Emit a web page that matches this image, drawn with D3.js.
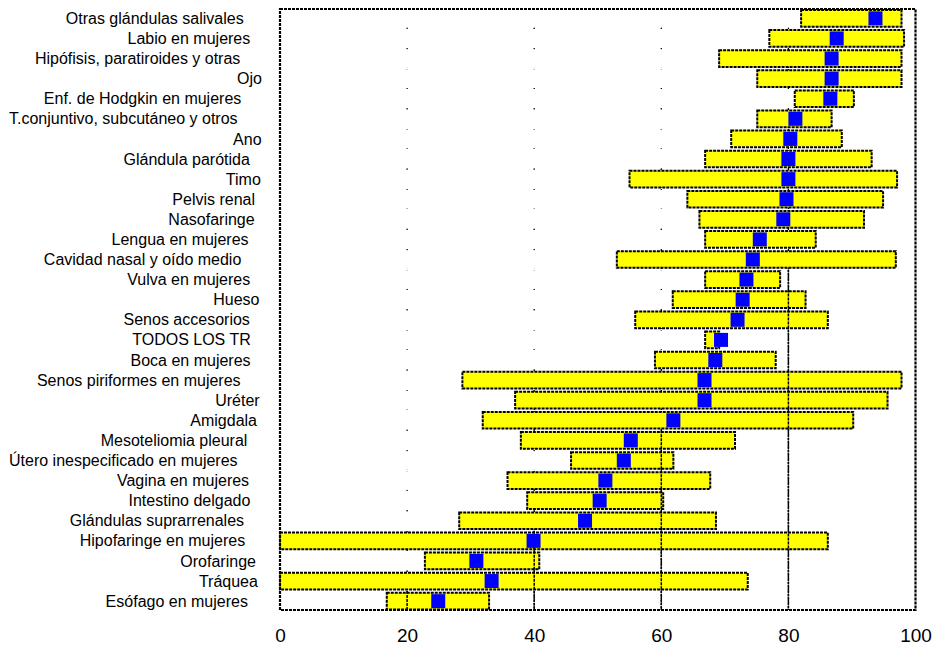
<!DOCTYPE html>
<html>
<head>
<meta charset="utf-8">
<script src="https://cdn.jsdelivr.net/npm/d3@7"></script>
<style>
  body { margin: 0; background: #fff; }
  text { font-family: "Liberation Sans", Arial, sans-serif; fill: #000; }
</style>
</head>
<body>
<svg id="chart" width="939" height="648"></svg>
<script>
// Sites, top to bottom
const categories = [
  "Otras glándulas salivales",
  "Labio en mujeres",
  "Hipófisis, paratiroides y otras",
  "Ojo",
  "Enf. de Hodgkin en mujeres",
  "T.conjuntivo, subcutáneo y otros",
  "Ano",
  "Glándula parótida",
  "Timo",
  "Pelvis renal",
  "Nasofaringe",
  "Lengua en mujeres",
  "Cavidad nasal y oído medio",
  "Vulva en mujeres",
  "Hueso",
  "Senos accesorios",
  "TODOS LOS TR",
  "Boca en mujeres",
  "Senos piriformes en mujeres",
  "Uréter",
  "Amigdala",
  "Mesoteliomia pleural",
  "Útero inespecificado en mujeres",
  "Vagina en mujeres",
  "Intestino delgado",
  "Glándulas suprarrenales",
  "Hipofaringe en mujeres",
  "Orofaringe",
  "Tráquea",
  "Esófago en mujeres"
];

// Lower limit of the interval
const lower = [
  82.0, 77.0, 69.1, 75.1, 81.0, 75.1, 71.0, 66.9, 55.0, 64.1,
  66.0, 66.9, 53.0, 66.9, 61.8, 55.9, 66.9, 59.0, 28.7, 37.0,
  31.9, 37.9, 45.8, 35.8, 38.9, 28.2, 0.0, 22.8, 0.0, 16.8
];

// Upper limit of the interval
const upper = [
  97.8, 98.2, 97.8, 97.8, 90.3, 86.8, 88.4, 93.1, 97.1, 94.9,
  91.9, 84.3, 96.9, 78.7, 82.7, 86.2, 69.1, 78.0, 97.8, 95.6,
  90.2, 71.6, 61.9, 67.7, 60.3, 68.6, 86.2, 40.8, 73.6, 32.9
];

// Point estimate
const estimate = [
  93.7, 87.6, 86.8, 86.8, 86.6, 81.1, 80.3, 80.0, 80.0, 79.7,
  79.2, 75.5, 74.4, 73.4, 72.8, 72.0, 69.4, 68.5, 66.8, 66.8,
  61.9, 55.2, 54.1, 51.2, 50.3, 48.0, 39.9, 30.9, 33.3, 24.9
];

const xTicks = [0, 20, 40, 60, 80, 100];
// Reference lines and the first row (from the top) each one runs down from
const gridValues = [20, 40, 60, 80];
const gridFromRow = [
  "Esófago en mujeres",
  "Hipofaringe en mujeres",
  "Mesoteliomia pleural",
  "Vulva en mujeres"
];

const svg = d3.select("#chart");
const plot = { left: 280, right: 915.5, top: 9, bottom: 610 };

const x = d3.scaleLinear().domain([0, 100]).range([plot.left, plot.right]);
const y = d3.scaleBand()
  .domain(categories)
  .range([plot.top, plot.bottom + 0.5])
  .paddingInner(0.17)
  .paddingOuter(0.05);

const rows = categories.map((c, i) => ({
  name: c, lo: lower[i], hi: upper[i], est: estimate[i]
}));

// Full-height grid lines, behind everything
svg.append("g").selectAll("line")
  .data(gridValues)
  .join("line")
  .attr("x1", d => x(d)).attr("x2", d => x(d))
  .attr("y1", plot.top).attr("y2", plot.bottom)
  .attr("stroke", "#000")
  .attr("stroke-width", 1.3)
  .attr("stroke-dasharray", "2,1");

// White base segment from 0 to the lower limit masks the grid
svg.append("g").selectAll("rect")
  .data(rows)
  .join("rect")
  .attr("x", x(0))
  .attr("y", d => y(d.name) - 1)
  .attr("width", d => x(d.lo) - x(0))
  .attr("height", y.bandwidth() + 2)
  .attr("fill", "#fff");

// Interval bars
svg.append("g").selectAll("rect")
  .data(rows)
  .join("rect")
  .attr("x", d => x(d.lo))
  .attr("y", d => y(d.name))
  .attr("width", d => x(d.hi) - x(d.lo))
  .attr("height", y.bandwidth())
  .attr("fill", "#ffff00")
  .attr("stroke", "#000")
  .attr("stroke-width", 2)
  .attr("stroke-dasharray", "3,1");

// Lower part of each reference line, drawn over the bars
svg.append("g").selectAll("line")
  .data(gridValues.map((v, i) => ({ v, from: gridFromRow[i] })))
  .join("line")
  .attr("x1", d => x(d.v)).attr("x2", d => x(d.v))
  .attr("y1", d => y(d.from) - (y.step() - y.bandwidth()) / 2)
  .attr("y2", plot.bottom)
  .attr("stroke", "#000")
  .attr("stroke-width", 1.5)
  .attr("stroke-dasharray", "3,1");

// Point estimate markers
const m = 14;
svg.append("g").selectAll("rect")
  .data(rows)
  .join("rect")
  .attr("x", d => x(d.est) - m / 2)
  .attr("y", d => y(d.name) + y.bandwidth() / 2 - m / 2)
  .attr("width", m)
  .attr("height", m)
  .attr("fill", "#0000ff");

// Plot frame
svg.append("rect")
  .attr("x", plot.left).attr("y", plot.top)
  .attr("width", plot.right - plot.left)
  .attr("height", plot.bottom - plot.top)
  .attr("fill", "none")
  .attr("stroke", "#000")
  .attr("stroke-width", 2.2)
  .attr("stroke-dasharray", "3,1");

// Category labels
const labels = svg.append("g").selectAll("text")
  .data(rows)
  .join("text")
  .attr("y", d => y(d.name) + y.bandwidth() / 2)
  .attr("dy", "0.35em")
  .attr("text-anchor", "end")
  .attr("font-size", 16)
  .text(d => d.name);
labels.each(function () {
  const w = this.getComputedTextLength();
  d3.select(this).attr("x", 265 - 0.12 * w);
});

// X axis tick labels
const xAxis = d3.axisBottom(x).tickValues(xTicks).tickSize(0).tickPadding(19);
const ax = svg.append("g")
  .attr("transform", `translate(0,${plot.bottom})`)
  .call(xAxis);
ax.select(".domain").remove();
ax.selectAll("text")
  .attr("font-size", 19)
  .attr("font-family", "\"Liberation Sans\", Arial, sans-serif")
  .attr("fill", "#000");
</script>
</body>
</html>
